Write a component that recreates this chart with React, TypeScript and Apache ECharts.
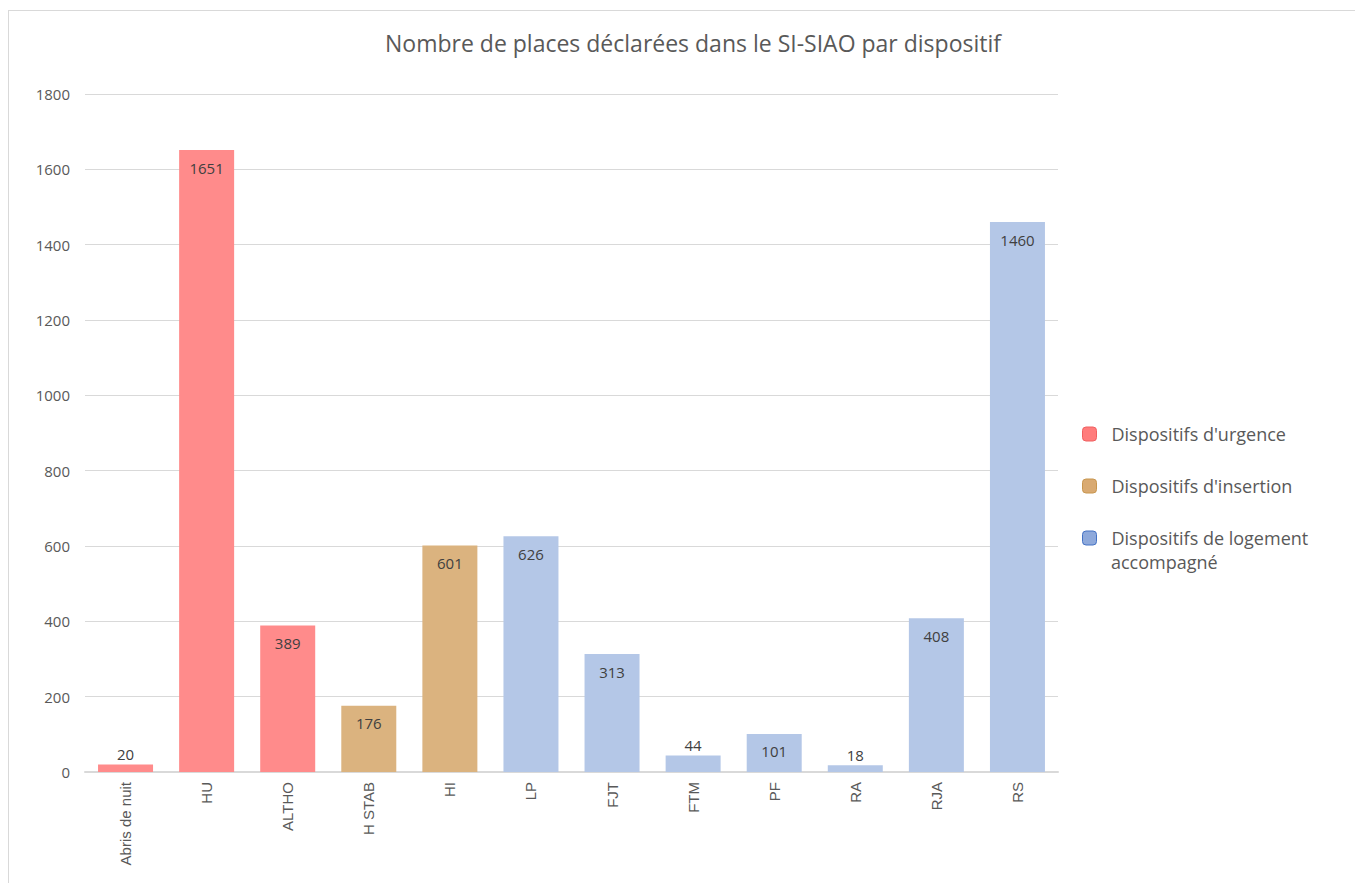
import React, { useEffect, useRef } from "react";
import * as echarts from "echarts";

const categories = ["Abris de nuit", "HU", "ALTHO", "H STAB", "HI", "LP", "FJT", "FTM", "PF", "RA", "RJA", "RS"];
const urgence = [20, 1651, 389, null, null, null, null, null, null, null, null, null];
const insertion = [null, null, null, 176, 601, null, null, null, null, null, null, null];
const logement = [null, null, null, null, null, 626, 313, 44, 101, 18, 408, 1460];
const yTicks = { min: 0, max: 1800, interval: 200 };

const seriesNames = ["Dispositifs d'urgence", "Dispositifs d'insertion", "Dispositifs de logement accompagné"];
const barColors = ["#FF8B8B", "#DBB37F", "#B4C7E7"];
const legendFill = ["#FF7C7C", "#D9AA72", "#8EA9DB"];
const legendBorder = ["#F06060", "#C8964F", "#4472C4"];

const textColor = "#595959";
const font = "'Open Sans', 'Noto Sans', 'Liberation Sans', sans-serif";

export default function App() {
  const ref = useRef<HTMLDivElement>(null);
  useEffect(() => {
    if (!ref.current) return;
    const chart = echarts.init(ref.current, undefined, { renderer: "svg" });
    const mk = (name: string, data: (number | null)[], color: string) => ({
      name,
      type: "bar",
      stack: "total",
      barWidth: 55,
      data: data.map((v) =>
        v == null
          ? null
          : {
              value: v,
              label: { position: v < 100 ? "top" : "insideTop", distance: v < 100 ? 3 : 10 },
            }
      ),
      itemStyle: { color },
      label: {
        show: true,
        color: "#404040",
        fontSize: 15,
        fontFamily: font,
      },
    });
    chart.setOption({
      animation: false,
      backgroundColor: "#ffffff",
      title: {
        text: "Nombre de places déclarées dans le SI-SIAO par dispositif",
        left: 688,
        top: 26,
        textAlign: "center",
        textStyle: { color: textColor, fontSize: 23, fontWeight: "normal", fontFamily: font },
      },
      grid: { left: 85, right: 298, top: 94, bottom: 111, containLabel: false },
      legend: {
        orient: "vertical",
        left: 1077,
        top: 418,
        itemWidth: 14,
        itemHeight: 14,
        itemGap: 30,
        icon: "roundRect",
        textStyle: { color: textColor, fontSize: 18, fontFamily: font, lineHeight: 22, padding: [0, 0, 0, 10] },
        formatter: (n: string) => (n === seriesNames[2] ? "Dispositifs de logement" : n),
        data: seriesNames.map((n, i) => ({
          name: n,
          itemStyle: { color: legendFill[i], borderColor: legendBorder[i], borderWidth: 1 },
        })),
      },
      graphic: [
        {
          type: "text",
          left: 1111,
          top: 553,
          style: { text: "accompagné", fill: textColor, fontSize: 18, fontFamily: font },
        },
      ],
      xAxis: {
        type: "category",
        data: categories,
        axisLine: { lineStyle: { color: "#d9d9d9", width: 2 } },
        axisTick: { show: false },
        axisLabel: {
          rotate: 90,
          color: textColor,
          fontSize: 15,
          margin: 10,
          fontFamily: "'Liberation Sans Narrow', 'Liberation Sans', Arial, sans-serif",
        },
      },
      yAxis: {
        type: "value",
        min: yTicks.min,
        max: yTicks.max,
        interval: yTicks.interval,
        axisLine: { show: false },
        axisTick: { show: false },
        splitLine: { lineStyle: { color: "#d9d9d9", width: 1 } },
        axisLabel: {
          color: textColor,
          fontSize: 15,
          margin: 15,
          fontFamily: font,
          formatter: (v: number) => String(v),
        },
      },
      series: [
        mk(seriesNames[0], urgence, barColors[0]),
        mk(seriesNames[1], insertion, barColors[1]),
        mk(seriesNames[2], logement, barColors[2]),
      ],
    });
    return () => chart.dispose();
  }, []);
  return (
    <div style={{ position: "fixed", left: 0, top: 0, width: 1356, height: 883, background: "#fff" }}>
      <div ref={ref} style={{ position: "absolute", left: 0, top: 0, width: 1356, height: 883 }} />
      <div
        style={{
          position: "absolute",
          left: 8,
          top: 10,
          width: 1347,
          height: 873,
          borderTop: "1px solid #d9d9d9",
          borderLeft: "1px solid #d9d9d9",
          pointerEvents: "none",
          boxSizing: "border-box",
        }}
      />
    </div>
  );
}
